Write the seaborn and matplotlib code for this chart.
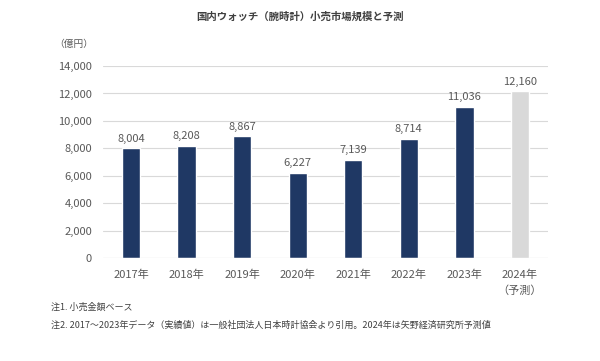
import matplotlib
matplotlib.use("Agg")
import matplotlib.pyplot as plt
import seaborn as sns
import pandas as pd

years = ["2017年", "2018年", "2019年", "2020年", "2021年", "2022年", "2023年", "2024年\n（予測）"]
values = [8004, 8208, 8867, 6227, 7139, 8714, 11036, 12160]
colors = ["#1f3864"] * 7 + ["#d9d9d9"]

sns.set_theme(style="white")
plt.rcParams['font.family'] = ['Noto Sans CJK JP', 'DejaVu Sans']
txt = "#595959"

df = pd.DataFrame({"year": years, "value": values})

fig = plt.figure(figsize=(6, 3.61), dpi=100)
ax = fig.add_axes([0.172, 0.285, 0.741, 0.532])
sns.barplot(data=df, x="year", y="value", hue="year", palette=colors, legend=False,
            width=0.33, saturation=1, ax=ax, zorder=3)

ax.set_ylim(0, 14000)
ax.set_yticks(range(0, 14001, 2000))
ax.set_yticklabels([f"{v:,}" for v in range(0, 14001, 2000)], fontsize=8, color=txt)
ax.set_xticks(range(len(years)))
ax.set_xticklabels(years, fontsize=8, color=txt, linespacing=1.7)
ax.tick_params(axis='both', length=0, pad=8)
ax.yaxis.grid(True, color="#d9d9d9", linewidth=0.8, zorder=0)
ax.set_xlabel("")
ax.set_ylabel("")
for s in ax.spines.values():
    s.set_visible(False)
ax.axhline(0, color="#d9d9d9", linewidth=0.8, zorder=4)

for i, v in enumerate(values):
    ax.text(i, v + 350, f"{v:,}", ha="center", va="bottom", fontsize=8, color=txt)

fig.text(0.5, 0.955, "国内ウォッチ（腕時計）小売市場規模と予測", ha="center", va="center",
         fontsize=7.5, color="#404040", fontweight="bold")
fig.text(0.09, 0.878, "（億円）", ha="left", va="center", fontsize=7, color=txt)
fig.text(0.085, 0.15, "注1. 小売金額ベース", ha="left", va="center", fontsize=6.5, color="#404040")
fig.text(0.085, 0.098, "注2. 2017～2023年データ（実績値）は一般社団法人日本時計協会より引用。2024年は矢野経済研究所予測値",
         ha="left", va="center", fontsize=6.5, color="#404040")

fig.savefig("out.png", dpi=100, facecolor="white")
